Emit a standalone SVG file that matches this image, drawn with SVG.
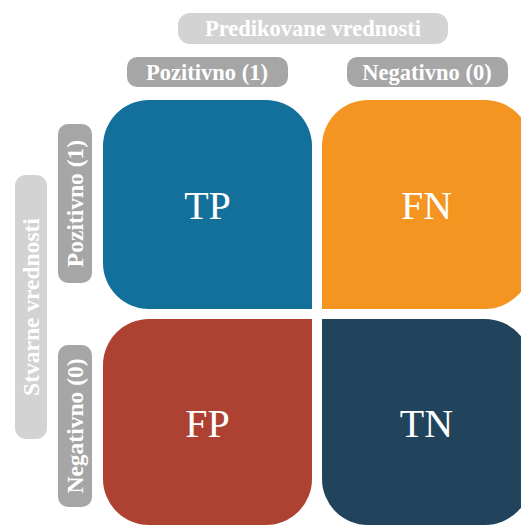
<svg xmlns="http://www.w3.org/2000/svg" width="521" height="527" viewBox="0 0 521 527">
<style>
  .lbl { font-family: "Liberation Serif", "Times New Roman", serif; font-weight: bold; fill: #ffffff; text-anchor: middle; }
  .h { font-size: 22.5px; }
  .v { font-size: 23.5px; }
  .q { font-family: "Liberation Serif", "Times New Roman", serif; font-size: 40px; fill: #ffffff; text-anchor: middle; }
  .light { fill: #d3d3d3; }
  .dark { fill: #a6a6a6; }
</style>
<rect width="521" height="527" fill="#ffffff"/>

<g id="header-predicted">
  <rect class="light" x="178" y="13" width="270" height="31" rx="12"/>
  <text class="lbl h" x="313" y="36">Predikovane vrednosti</text>
</g>
<g id="header-pred-pos">
  <rect class="dark" x="127" y="57" width="161" height="30" rx="10"/>
  <text class="lbl h" x="207" y="80">Pozitivno (1)</text>
</g>
<g id="header-pred-neg">
  <rect class="dark" x="347" y="57" width="161" height="30" rx="10"/>
  <text class="lbl h" x="427" y="80">Negativno (0)</text>
</g>

<g id="header-actual">
  <rect class="light" x="15" y="175" width="32" height="264" rx="11"/>
  <text class="lbl v" transform="translate(39,307) rotate(-90)">Stvarne vrednosti</text>
</g>
<g id="header-act-pos">
  <rect class="dark" x="58" y="124" width="34" height="159" rx="10"/>
  <text class="lbl v" transform="translate(83,203.5) rotate(-90)">Pozitivno (1)</text>
</g>
<g id="header-act-neg">
  <rect class="dark" x="58" y="345" width="34" height="162" rx="10"/>
  <text class="lbl v" transform="translate(83,426) rotate(-90)">Negativno (0)</text>
</g>

<g id="TP">
  <path fill="#13709b" d="M103,146 A46,46 0 0 1 149,100 H266 A46,46 0 0 1 312,146 V309 H149 A46,46 0 0 1 103,263 Z"/>
  <text class="q" x="207.5" y="219">TP</text>
</g>
<g id="FN">
  <path fill="#f39520" d="M322,146 A46,46 0 0 1 368,100 H485 A46,46 0 0 1 531,146 V263 A46,46 0 0 1 485,309 H322 Z"/>
  <text class="q" x="426.5" y="219">FN</text>
</g>
<g id="FP">
  <path fill="#ae4232" d="M103,365 A46,46 0 0 1 149,319 H312 V479 A46,46 0 0 1 266,525 H149 A46,46 0 0 1 103,479 Z"/>
  <text class="q" x="207.5" y="437">FP</text>
</g>
<g id="TN">
  <path fill="#21435b" d="M322,319 H485 A46,46 0 0 1 531,365 V479 A46,46 0 0 1 485,525 H368 A46,46 0 0 1 322,479 Z"/>
  <text class="q" x="426.5" y="437">TN</text>
</g>

<g id="connectors"></g>
</svg>
